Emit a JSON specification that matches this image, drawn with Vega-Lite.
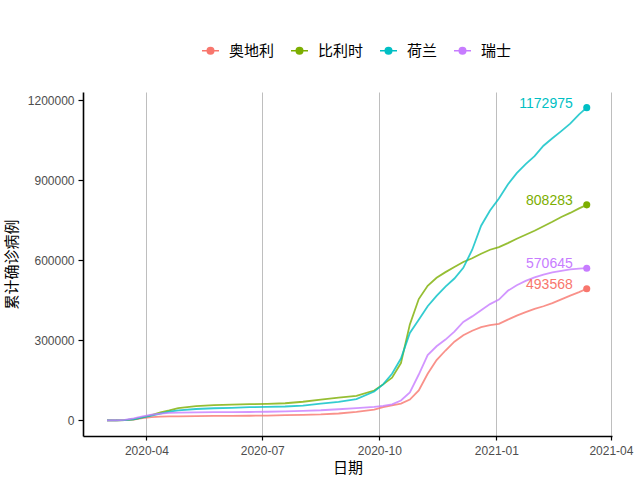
{
  "$schema": "https://vega.github.io/schema/vega-lite/v6.json",
  "width": 529,
  "height": 344,
  "autosize": {"type": "none"},
  "padding": {"left": 83, "top": 92, "right": 28, "bottom": 44},
  "background": "white",
  "config": {"view": {"stroke": null}, "font": "Liberation Sans"},
  "datasets": {
    "covid": [
      {"date": "2020-03-01", "country": "奥地利", "cases": 10},
      {"date": "2020-03-08", "country": "奥地利", "cases": 104},
      {"date": "2020-03-15", "country": "奥地利", "cases": 860},
      {"date": "2020-03-22", "country": "奥地利", "cases": 3244},
      {"date": "2020-03-29", "country": "奥地利", "cases": 8813},
      {"date": "2020-04-05", "country": "奥地利", "cases": 11900},
      {"date": "2020-04-12", "country": "奥地利", "cases": 13900},
      {"date": "2020-04-19", "country": "奥地利", "cases": 14750},
      {"date": "2020-04-26", "country": "奥地利", "cases": 15300},
      {"date": "2020-05-10", "country": "奥地利", "cases": 15900},
      {"date": "2020-05-24", "country": "奥地利", "cases": 16500},
      {"date": "2020-06-07", "country": "奥地利", "cases": 16900},
      {"date": "2020-06-21", "country": "奥地利", "cases": 17300},
      {"date": "2020-07-05", "country": "奥地利", "cases": 18000},
      {"date": "2020-07-19", "country": "奥地利", "cases": 19300},
      {"date": "2020-08-02", "country": "奥地利", "cases": 20700},
      {"date": "2020-08-16", "country": "奥地利", "cases": 22500},
      {"date": "2020-08-30", "country": "奥地利", "cases": 25800},
      {"date": "2020-09-13", "country": "奥地利", "cases": 31700},
      {"date": "2020-09-27", "country": "奥地利", "cases": 40000},
      {"date": "2020-10-04", "country": "奥地利", "cases": 50000},
      {"date": "2020-10-11", "country": "奥地利", "cases": 56000},
      {"date": "2020-10-18", "country": "奥地利", "cases": 63000},
      {"date": "2020-10-25", "country": "奥地利", "cases": 78000},
      {"date": "2020-11-01", "country": "奥地利", "cases": 112000},
      {"date": "2020-11-08", "country": "奥地利", "cases": 175000},
      {"date": "2020-11-15", "country": "奥地利", "cases": 226000},
      {"date": "2020-11-22", "country": "奥地利", "cases": 262000},
      {"date": "2020-11-29", "country": "奥地利", "cases": 295000},
      {"date": "2020-12-06", "country": "奥地利", "cases": 319000},
      {"date": "2020-12-13", "country": "奥地利", "cases": 336000},
      {"date": "2020-12-20", "country": "奥地利", "cases": 350000},
      {"date": "2020-12-27", "country": "奥地利", "cases": 357000},
      {"date": "2021-01-03", "country": "奥地利", "cases": 362000},
      {"date": "2021-01-10", "country": "奥地利", "cases": 378000},
      {"date": "2021-01-17", "country": "奥地利", "cases": 393000},
      {"date": "2021-01-24", "country": "奥地利", "cases": 406000},
      {"date": "2021-01-31", "country": "奥地利", "cases": 418000},
      {"date": "2021-02-07", "country": "奥地利", "cases": 428000},
      {"date": "2021-02-14", "country": "奥地利", "cases": 440000},
      {"date": "2021-02-21", "country": "奥地利", "cases": 454000},
      {"date": "2021-02-28", "country": "奥地利", "cases": 468000},
      {"date": "2021-03-07", "country": "奥地利", "cases": 481000},
      {"date": "2021-03-13", "country": "奥地利", "cases": 493568},

      {"date": "2020-03-01", "country": "比利时", "cases": 2},
      {"date": "2020-03-08", "country": "比利时", "cases": 200},
      {"date": "2020-03-15", "country": "比利时", "cases": 886},
      {"date": "2020-03-22", "country": "比利时", "cases": 3401},
      {"date": "2020-03-29", "country": "比利时", "cases": 10836},
      {"date": "2020-04-05", "country": "比利时", "cases": 19691},
      {"date": "2020-04-12", "country": "比利时", "cases": 29647},
      {"date": "2020-04-19", "country": "比利时", "cases": 37183},
      {"date": "2020-04-26", "country": "比利时", "cases": 46134},
      {"date": "2020-05-10", "country": "比利时", "cases": 53449},
      {"date": "2020-05-24", "country": "比利时", "cases": 57092},
      {"date": "2020-06-07", "country": "比利时", "cases": 59348},
      {"date": "2020-06-21", "country": "比利时", "cases": 60550},
      {"date": "2020-07-05", "country": "比利时", "cases": 62058},
      {"date": "2020-07-19", "country": "比利时", "cases": 64258},
      {"date": "2020-08-02", "country": "比利时", "cases": 69849},
      {"date": "2020-08-16", "country": "比利时", "cases": 77869},
      {"date": "2020-08-30", "country": "比利时", "cases": 85487},
      {"date": "2020-09-13", "country": "比利时", "cases": 92000},
      {"date": "2020-09-27", "country": "比利时", "cases": 112000},
      {"date": "2020-10-04", "country": "比利时", "cases": 135000},
      {"date": "2020-10-11", "country": "比利时", "cases": 160000},
      {"date": "2020-10-18", "country": "比利时", "cases": 215000},
      {"date": "2020-10-25", "country": "比利时", "cases": 360000},
      {"date": "2020-11-01", "country": "比利时", "cases": 455000},
      {"date": "2020-11-08", "country": "比利时", "cases": 505000},
      {"date": "2020-11-15", "country": "比利时", "cases": 535000},
      {"date": "2020-11-22", "country": "比利时", "cases": 556000},
      {"date": "2020-11-29", "country": "比利时", "cases": 575000},
      {"date": "2020-12-06", "country": "比利时", "cases": 594000},
      {"date": "2020-12-13", "country": "比利时", "cases": 608000},
      {"date": "2020-12-20", "country": "比利时", "cases": 625000},
      {"date": "2020-12-27", "country": "比利时", "cases": 640000},
      {"date": "2021-01-03", "country": "比利时", "cases": 650000},
      {"date": "2021-01-10", "country": "比利时", "cases": 665000},
      {"date": "2021-01-17", "country": "比利时", "cases": 681000},
      {"date": "2021-01-24", "country": "比利时", "cases": 696000},
      {"date": "2021-01-31", "country": "比利时", "cases": 711000},
      {"date": "2021-02-07", "country": "比利时", "cases": 728000},
      {"date": "2021-02-14", "country": "比利时", "cases": 745000},
      {"date": "2021-02-21", "country": "比利时", "cases": 763000},
      {"date": "2021-02-28", "country": "比利时", "cases": 778000},
      {"date": "2021-03-07", "country": "比利时", "cases": 795000},
      {"date": "2021-03-13", "country": "比利时", "cases": 808283},

      {"date": "2020-03-01", "country": "荷兰", "cases": 10},
      {"date": "2020-03-08", "country": "荷兰", "cases": 265},
      {"date": "2020-03-15", "country": "荷兰", "cases": 1135},
      {"date": "2020-03-22", "country": "荷兰", "cases": 4216},
      {"date": "2020-03-29", "country": "荷兰", "cases": 10866},
      {"date": "2020-04-05", "country": "荷兰", "cases": 17851},
      {"date": "2020-04-12", "country": "荷兰", "cases": 25587},
      {"date": "2020-04-19", "country": "荷兰", "cases": 32655},
      {"date": "2020-04-26", "country": "荷兰", "cases": 37845},
      {"date": "2020-05-10", "country": "荷兰", "cases": 42627},
      {"date": "2020-05-24", "country": "荷兰", "cases": 45445},
      {"date": "2020-06-07", "country": "荷兰", "cases": 47152},
      {"date": "2020-06-21", "country": "荷兰", "cases": 49502},
      {"date": "2020-07-05", "country": "荷兰", "cases": 50621},
      {"date": "2020-07-19", "country": "荷兰", "cases": 52073},
      {"date": "2020-08-02", "country": "荷兰", "cases": 55470},
      {"date": "2020-08-16", "country": "荷兰", "cases": 63000},
      {"date": "2020-08-30", "country": "荷兰", "cases": 69000},
      {"date": "2020-09-13", "country": "荷兰", "cases": 80000},
      {"date": "2020-09-27", "country": "荷兰", "cases": 108000},
      {"date": "2020-10-04", "country": "荷兰", "cases": 135000},
      {"date": "2020-10-11", "country": "荷兰", "cases": 175000},
      {"date": "2020-10-18", "country": "荷兰", "cases": 232000},
      {"date": "2020-10-25", "country": "荷兰", "cases": 328000},
      {"date": "2020-11-01", "country": "荷兰", "cases": 377000},
      {"date": "2020-11-08", "country": "荷兰", "cases": 428000},
      {"date": "2020-11-15", "country": "荷兰", "cases": 467000},
      {"date": "2020-11-22", "country": "荷兰", "cases": 502000},
      {"date": "2020-11-29", "country": "荷兰", "cases": 532000},
      {"date": "2020-12-06", "country": "荷兰", "cases": 572000},
      {"date": "2020-12-13", "country": "荷兰", "cases": 640000},
      {"date": "2020-12-20", "country": "荷兰", "cases": 730000},
      {"date": "2020-12-27", "country": "荷兰", "cases": 787000},
      {"date": "2021-01-03", "country": "荷兰", "cases": 832000},
      {"date": "2021-01-10", "country": "荷兰", "cases": 885000},
      {"date": "2021-01-17", "country": "荷兰", "cases": 927000},
      {"date": "2021-01-24", "country": "荷兰", "cases": 961000},
      {"date": "2021-01-31", "country": "荷兰", "cases": 991000},
      {"date": "2021-02-07", "country": "荷兰", "cases": 1030000},
      {"date": "2021-02-14", "country": "荷兰", "cases": 1058000},
      {"date": "2021-02-21", "country": "荷兰", "cases": 1085000},
      {"date": "2021-02-28", "country": "荷兰", "cases": 1113000},
      {"date": "2021-03-07", "country": "荷兰", "cases": 1148000},
      {"date": "2021-03-13", "country": "荷兰", "cases": 1172975},

      {"date": "2020-03-01", "country": "瑞士", "cases": 27},
      {"date": "2020-03-08", "country": "瑞士", "cases": 337},
      {"date": "2020-03-15", "country": "瑞士", "cases": 2200},
      {"date": "2020-03-22", "country": "瑞士", "cases": 7245},
      {"date": "2020-03-29", "country": "瑞士", "cases": 14829},
      {"date": "2020-04-05", "country": "瑞士", "cases": 21100},
      {"date": "2020-04-12", "country": "瑞士", "cases": 25107},
      {"date": "2020-04-19", "country": "瑞士", "cases": 27740},
      {"date": "2020-04-26", "country": "瑞士", "cases": 29061},
      {"date": "2020-05-10", "country": "瑞士", "cases": 30200},
      {"date": "2020-05-24", "country": "瑞士", "cases": 30700},
      {"date": "2020-06-07", "country": "瑞士", "cases": 30950},
      {"date": "2020-06-21", "country": "瑞士", "cases": 31300},
      {"date": "2020-07-05", "country": "瑞士", "cases": 32300},
      {"date": "2020-07-19", "country": "瑞士", "cases": 33900},
      {"date": "2020-08-02", "country": "瑞士", "cases": 35600},
      {"date": "2020-08-16", "country": "瑞士", "cases": 37900},
      {"date": "2020-08-30", "country": "瑞士", "cases": 41700},
      {"date": "2020-09-13", "country": "瑞士", "cases": 45700},
      {"date": "2020-09-27", "country": "瑞士", "cases": 50400},
      {"date": "2020-10-04", "country": "瑞士", "cases": 54000},
      {"date": "2020-10-11", "country": "瑞士", "cases": 60000},
      {"date": "2020-10-18", "country": "瑞士", "cases": 74400},
      {"date": "2020-10-25", "country": "瑞士", "cases": 105000},
      {"date": "2020-11-01", "country": "瑞士", "cases": 172000},
      {"date": "2020-11-08", "country": "瑞士", "cases": 245000},
      {"date": "2020-11-15", "country": "瑞士", "cases": 278000},
      {"date": "2020-11-22", "country": "瑞士", "cases": 303000},
      {"date": "2020-11-29", "country": "瑞士", "cases": 333000},
      {"date": "2020-12-06", "country": "瑞士", "cases": 369000},
      {"date": "2020-12-13", "country": "瑞士", "cases": 390000},
      {"date": "2020-12-20", "country": "瑞士", "cases": 413000},
      {"date": "2020-12-27", "country": "瑞士", "cases": 436000},
      {"date": "2021-01-03", "country": "瑞士", "cases": 453000},
      {"date": "2021-01-10", "country": "瑞士", "cases": 486000},
      {"date": "2021-01-17", "country": "瑞士", "cases": 507000},
      {"date": "2021-01-24", "country": "瑞士", "cases": 523000},
      {"date": "2021-01-31", "country": "瑞士", "cases": 536000},
      {"date": "2021-02-07", "country": "瑞士", "cases": 547000},
      {"date": "2021-02-14", "country": "瑞士", "cases": 555000},
      {"date": "2021-02-21", "country": "瑞士", "cases": 561000},
      {"date": "2021-02-28", "country": "瑞士", "cases": 566000},
      {"date": "2021-03-07", "country": "瑞士", "cases": 569000},
      {"date": "2021-03-13", "country": "瑞士", "cases": 570645}
    ]
  },
  "data": {"name": "covid"},
  "encoding": {
    "x": {
      "field": "date",
      "type": "temporal",
      "scale": {
        "domain": [
          {"year": 2020, "month": 2, "date": 11, "hours": 3, "minutes": 36},
          {"year": 2021, "month": 4, "date": 1, "hours": 20, "minutes": 24}
        ],
        "nice": false
      },
      "axis": {
        "title": "日期",
        "values": [
          {"year": 2020, "month": 4, "date": 1},
          {"year": 2020, "month": 7, "date": 1},
          {"year": 2020, "month": 10, "date": 1},
          {"year": 2021, "month": 1, "date": 1},
          {"year": 2021, "month": 4, "date": 1}
        ],
        "format": "%Y-%m",
        "grid": true,
        "gridColor": "#BEBEBE",
        "gridWidth": 1,
        "domainColor": "black",
        "domainWidth": 1.6,
        "tickColor": "black",
        "tickWidth": 1.2,
        "tickSize": 4,
        "labelColor": "#4D4D4D",
        "labelFontSize": 12,
        "labelFont": "Liberation Sans",
        "labelPadding": 5,
        "labelFlush": false,
        "labelOverlap": false,
        "titleFont": "Noto Sans CJK SC",
        "titleFontSize": 15,
        "titleFontWeight": "normal",
        "titleColor": "black",
        "titlePadding": 4
      }
    },
    "y": {
      "field": "cases",
      "type": "quantitative",
      "scale": {"domain": [-58649, 1231624], "nice": false, "zero": false},
      "axis": {
        "title": "累计确诊病例",
        "values": [0, 300000, 600000, 900000, 1200000],
        "format": "d",
        "grid": false,
        "domainColor": "black",
        "domainWidth": 1.6,
        "tickColor": "black",
        "tickWidth": 1.2,
        "tickSize": 5,
        "labelColor": "#4D4D4D",
        "labelFontSize": 12,
        "labelFont": "Liberation Sans",
        "labelPadding": 4,
        "labelFlush": false,
        "titleFont": "Noto Sans CJK SC",
        "titleFontSize": 15,
        "titleFontWeight": "normal",
        "titleColor": "black",
        "titlePadding": 8
      }
    },
    "color": {
      "field": "country",
      "type": "nominal",
      "scale": {
        "domain": ["奥地利", "比利时", "荷兰", "瑞士"],
        "range": ["#F8766D", "#7CAE00", "#00BFC4", "#C77CFF"]
      },
      "legend": {
        "title": null,
        "orient": "none",
        "direction": "horizontal",
        "legendX": 118,
        "legendY": -51,
        "symbolType": "M-1,0L1,0M-0.38,0A0.38,0.38,0,1,0,0.38,0A0.38,0.38,0,1,0,-0.38,0Z",
        "symbolSize": 289,
        "symbolStrokeWidth": 1.6,
        "symbolOpacity": 1,
        "labelFont": "Noto Sans CJK SC",
        "labelFontSize": 15,
        "labelColor": "black",
        "labelOffset": 9,
        "columnPadding": 12,
        "encode": {
          "symbols": {
            "update": {
              "fill": {"scale": "color", "field": "value"},
              "stroke": {"scale": "color", "field": "value"}
            }
          }
        }
      }
    }
  },
  "layer": [
    {"mark": {"type": "line", "strokeWidth": 1.8, "opacity": 0.8}},
    {
      "transform": [
        {"joinaggregate": [{"op": "max", "field": "date", "as": "maxd"}], "groupby": ["country"]},
        {"filter": "time(datum.date) === time(datum.maxd)"}
      ],
      "mark": {"type": "point", "filled": true, "size": 50, "opacity": 1}
    },
    {
      "transform": [
        {"joinaggregate": [{"op": "max", "field": "date", "as": "maxd"}], "groupby": ["country"]},
        {"filter": "time(datum.date) === time(datum.maxd)"}
      ],
      "mark": {"type": "text", "align": "right", "baseline": "middle", "dx": -14, "dy": -4, "fontSize": 14, "font": "Liberation Sans"},
      "encoding": {"text": {"field": "cases", "type": "quantitative", "format": "d"}}
    }
  ]
}
